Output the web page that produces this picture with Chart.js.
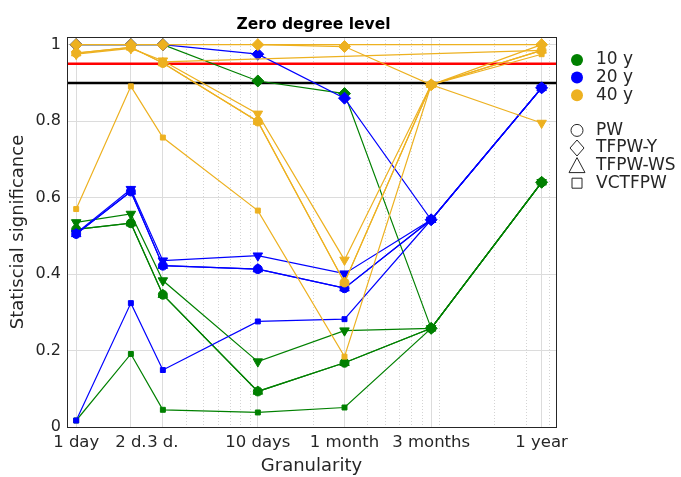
<!DOCTYPE html>
<html lang="en">
<head>
    <meta charset="UTF-8">
    <title>Zero degree level</title>
    <script src="https://cdn.jsdelivr.net/npm/chart.js"></script>
    <style>
        body { margin: 0; background: #fff; }
        #wrap { width: 681px; height: 477px; }
    </style>
</head>
<body>
    <div id="wrap"><canvas id="chartCanvas" width="681" height="477"></canvas></div>

    <script>
        // granularity in days, and the labels shown under the axis
        var granularity = [1, 2, 3, 10, 30, 90, 365];
        var xTickLabels = ['1 day', '2 d.', '3 d.', '10 days', '1 month', '3 months', '1 year'];
        var xMinorGrid = [4, 5, 6, 7, 8, 9, 20, 40, 50, 60, 70, 80, 100, 200, 300, 400];
        var yTicks = [0, 0.2, 0.4, 0.6, 0.8, 1];

        var chartTitle = 'Zero degree level';
        var xTitle = 'Granularity';
        var yTitle = 'Statiscial significance';

        var periods = ['10 y', '20 y', '40 y'];
        var periodColors = ['#008000', '#0000ff', '#edb120'];
        var methods = ['PW', 'TFPW-Y', 'TFPW-WS', 'VCTFPW'];

        var refLevels = [0.95, 0.9];
        var refColors = ['#ff0000', '#000000'];

        // 10 y
        var y10_PW      = [0.517, 0.533, 0.346, 0.093, 0.168, 0.258, 0.640];
        var y10_TFPWY   = [1.000, 1.000, 1.000, 0.905, 0.872, 0.258, 0.640];
        var y10_TFPWWS  = [0.517, 0.533, 0.346, 0.093, 0.168, 0.258, 0.640];
        var y10_TFPWWS2 = [0.535, 0.557, 0.383, 0.171, 0.252, 0.258, 0.640];
        var y10_VCTFPW  = [0.017, 0.191, 0.045, 0.038, 0.051, 0.258, 0.640];

        // 20 y
        var y20_PW      = [0.505, 0.616, 0.422, 0.413, 0.363, 0.542, 0.887];
        var y20_TFPWY   = [1.000, 1.000, 1.000, 0.975, 0.860, 0.542, 0.887];
        var y20_TFPWWS  = [0.505, 0.616, 0.422, 0.413, 0.363, 0.542, 0.887];
        var y20_TFPWWS2 = [0.507, 0.622, 0.435, 0.448, 0.401, 0.542, 0.887];
        var y20_VCTFPW  = [0.017, 0.324, 0.149, 0.276, 0.282, 0.542, 0.887];

        // 40 y
        var y40_PW      = [0.978, 0.993, 0.952, 0.799, 0.378, 0.895, 0.985];
        var y40_TFPWY   = [1.000, 1.000, 1.000, 1.000, 0.995, 0.895, 1.000];
        var y40_TFPWWS  = [0.978, 0.993, 0.952, 0.799, 0.378, 0.895, 0.985];
        var y40_TFPWWS2 = [0.975, 0.990, 0.958, 0.819, 0.437, 0.895, 0.795];
        var y40_VCTFPW  = [0.570, 0.891, 0.757, 0.566, 0.184, 0.895, 0.975];
        var y40_spanA   = [null, null, null, 1.000, null, null, 1.000];
        var y40_spanB   = [null, null, 0.955, null, null, null, 0.985];

        function toPoints(values) {
            return values.map(function (v, i) { return { x: granularity[i], y: v }; });
        }

        function series(label, values, color, style, rot, radius, order) {
            return {
                label: label,
                data: toPoints(values),
                borderColor: color,
                backgroundColor: color,
                borderWidth: 1.2,
                pointStyle: style,
                pointRotation: rot,
                pointRadius: radius,
                pointBorderWidth: 1,
                showLine: true,
                spanGaps: true,
                order: order
            };
        }

        var allSeries = [
            [y10_PW, y10_TFPWY, y10_TFPWWS, y10_TFPWWS2, y10_VCTFPW],
            [y20_PW, y20_TFPWY, y20_TFPWWS, y20_TFPWWS2, y20_VCTFPW],
            [y40_PW, y40_TFPWY, y40_TFPWWS, y40_TFPWWS2, y40_VCTFPW]
        ];

        var datasets = [];
        for (var p = 0; p < periods.length; p++) {
            var c = periodColors[p];
            var ord = 3 - p;
            var s = allSeries[p];
            datasets.push(series(periods[p] + ' PW', s[0], c, 'circle', 0, 4.5, ord));
            datasets.push(series(periods[p] + ' TFPW-Y', s[1], c, 'rectRot', 0, 6, ord));
            datasets.push(series(periods[p] + ' TFPW-WS', s[2], c, 'triangle', 0, 5.5, ord));
            datasets.push(series(periods[p] + ' TFPW-WS v', s[3], c, 'triangle', 180, 5.5, ord));
            datasets.push(series(periods[p] + ' VCTFPW', s[4], c, 'rect', 0, 3.5, ord));
        }
        datasets.push(series('40 y a', y40_spanA, periodColors[2], 'circle', 0, 0, 1));
        datasets.push(series('40 y b', y40_spanB, periodColors[2], 'circle', 0, 0, 1));

        var xMin = 0.89, xMax = 438;
        for (var r = 0; r < refLevels.length; r++) {
            datasets.push({
                label: 'level ' + refLevels[r],
                data: [{ x: xMin, y: refLevels[r] }, { x: xMax, y: refLevels[r] }],
                borderColor: refColors[r],
                borderWidth: 2.5,
                pointRadius: 0,
                showLine: true,
                order: 10
            });
        }

        var textColor = '#262626';
        var fontFamily = '"DejaVu Sans", sans-serif';

        // dotted minor grid, frame, title and legend
        var decor = {
            id: 'decor',
            beforeDatasetsDraw: function (chart) {
                var ctx = chart.ctx, a = chart.chartArea, xs = chart.scales.x;
                ctx.save();
                ctx.strokeStyle = '#d4d4d4';
                ctx.lineWidth = 1;
                ctx.setLineDash([1, 2]);
                xMinorGrid.forEach(function (v) {
                    var px = Math.round(xs.getPixelForValue(v)) + 0.5;
                    ctx.beginPath();
                    ctx.moveTo(px, a.top);
                    ctx.lineTo(px, a.bottom);
                    ctx.stroke();
                });
                ctx.restore();
            },
            afterDraw: function (chart) {
                var ctx = chart.ctx, a = chart.chartArea;
                ctx.save();
                ctx.strokeStyle = '#262626';
                ctx.lineWidth = 1;
                ctx.strokeRect(Math.round(a.left) + 0.5, Math.round(a.top) + 0.5,
                    Math.round(a.right - a.left), Math.round(a.bottom - a.top));

                ctx.fillStyle = '#000';
                ctx.font = 'bold 15.5px ' + fontFamily;
                ctx.textAlign = 'center';
                ctx.textBaseline = 'alphabetic';
                ctx.fillText(chartTitle, (a.left + a.right) / 2 + 2, a.top - 8);

                ctx.font = '17px ' + fontFamily;
                ctx.textAlign = 'left';
                ctx.textBaseline = 'middle';
                var mx = a.right + 21, tx = a.right + 40, step = 17.6, y0 = a.top + 23;
                periods.forEach(function (name, i) {
                    var y = y0 + i * step;
                    ctx.fillStyle = periodColors[i];
                    ctx.beginPath();
                    ctx.arc(mx, y, 6, 0, Math.PI * 2);
                    ctx.fill();
                    ctx.fillStyle = textColor;
                    ctx.fillText(name, tx, y);
                });
                ctx.strokeStyle = textColor;
                ctx.lineWidth = 1;
                methods.forEach(function (name, i) {
                    var y = y0 + (i + 4) * step;
                    ctx.beginPath();
                    if (i === 0) {
                        ctx.arc(mx, y, 6, 0, Math.PI * 2);
                    } else if (i === 1) {
                        ctx.moveTo(mx, y - 8); ctx.lineTo(mx + 7, y); ctx.lineTo(mx, y + 8); ctx.lineTo(mx - 7, y); ctx.closePath();
                    } else if (i === 2) {
                        ctx.moveTo(mx, y - 8); ctx.lineTo(mx + 8, y + 7); ctx.lineTo(mx - 8, y + 7); ctx.closePath();
                    } else {
                        ctx.rect(mx - 5, y - 5, 10, 10);
                    }
                    ctx.stroke();
                    ctx.fillStyle = textColor;
                    ctx.fillText(name, tx, y);
                });
                ctx.restore();
            }
        };

        new Chart(document.getElementById('chartCanvas').getContext('2d'), {
            type: 'line',
            data: { datasets: datasets },
            options: {
                responsive: false,
                animation: false,
                devicePixelRatio: 1,
                layout: { padding: { top: 37, right: 125, left: 0, bottom: 0 } },
                plugins: { legend: { display: false }, tooltip: { enabled: false } },
                scales: {
                    x: {
                        type: 'logarithmic',
                        min: xMin,
                        max: xMax,
                        afterBuildTicks: function (scale) {
                            scale.ticks = granularity.map(function (v) { return { value: v }; });
                        },
                        afterFit: function (scale) { scale.height = 50; },
                        ticks: {
                            autoSkip: false,
                            maxRotation: 0,
                            padding: 6,
                            color: textColor,
                            font: { family: fontFamily, size: 16.5 },
                            callback: function (v) {
                                var k = granularity.indexOf(v);
                                return k >= 0 ? xTickLabels[k] : '';
                            }
                        },
                        grid: { color: '#dcdcdc', drawTicks: false },
                        border: { display: false },
                        title: {
                            display: true, text: xTitle, color: textColor, padding: { top: 5, bottom: 0 },
                            font: { family: fontFamily, size: 18 }
                        }
                    },
                    y: {
                        min: 0,
                        max: 1.02,
                        afterBuildTicks: function (scale) {
                            scale.ticks = yTicks.map(function (v) { return { value: v }; });
                        },
                        afterFit: function (scale) { scale.width = 67; },
                        ticks: {
                            padding: 6,
                            color: textColor,
                            font: { family: fontFamily, size: 16 },
                            callback: function (v) { return (v === 0 || v === 1) ? String(v) : v.toFixed(1); }
                        },
                        grid: { color: '#dcdcdc', drawTicks: false },
                        border: { display: false },
                        title: {
                            display: true, text: yTitle, color: textColor, padding: { top: 8, bottom: 0 },
                            font: { family: fontFamily, size: 18 }
                        }
                    }
                }
            },
            plugins: [decor]
        });
    </script>
</body>
</html>
